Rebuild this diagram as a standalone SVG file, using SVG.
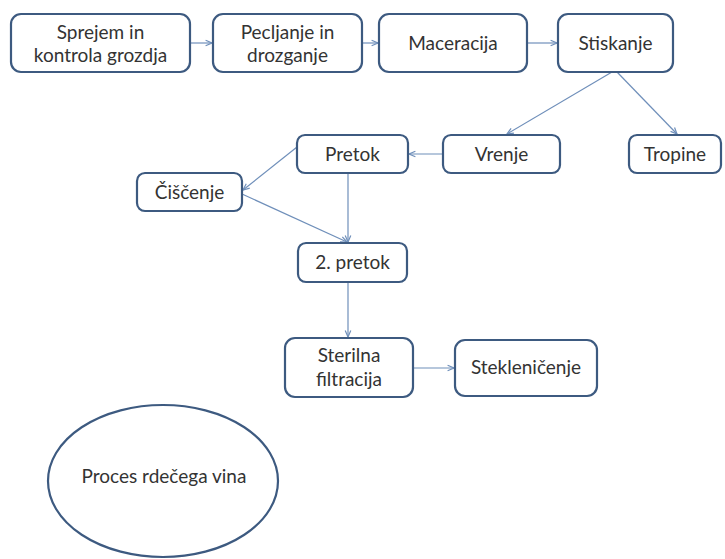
<svg xmlns="http://www.w3.org/2000/svg" width="725" height="559" viewBox="0 0 725 559">
<style>
.box{fill:#fff;stroke:#3d5a80;stroke-width:2.2}
.t{font-family:Lato,"Liberation Sans",sans-serif;font-size:19px;fill:#333;text-anchor:middle}
.c{fill:none;stroke:#6f8fba;stroke-width:1.2;marker-end:url(#a)}
</style>
<defs>
<marker id="a" viewBox="0 0 10 10" refX="9" refY="5" markerWidth="8" markerHeight="8" markerUnits="userSpaceOnUse" orient="auto">
<path d="M1,1.5 L9,5 L1,8.5" fill="none" stroke="#6f8fba" stroke-width="1.5"/>
</marker>
</defs>
<rect width="725" height="559" fill="#fff"/>
<g id="connectors">
<line class="c" x1="190" y1="43" x2="212" y2="43"/>
<line class="c" x1="362" y1="43" x2="378" y2="43"/>
<line class="c" x1="527" y1="43" x2="557" y2="43"/>
<line class="c" x1="612" y1="72" x2="507" y2="134"/>
<line class="c" x1="617" y1="72" x2="677" y2="134"/>
<line class="c" x1="443" y1="154" x2="409" y2="154"/>
<line class="c" x1="297" y1="147" x2="243" y2="190"/>
<line class="c" x1="242" y1="194" x2="347" y2="242"/>
<line class="c" x1="348" y1="173" x2="348" y2="242"/>
<line class="c" x1="348" y1="282" x2="348" y2="337"/>
<line class="c" x1="413" y1="368" x2="454" y2="368"/>
</g>
<g id="n1"><rect class="box" x="11" y="14" width="179" height="58" rx="10"/><text class="t" x="100.5" y="39">Sprejem in</text><text class="t" x="100.5" y="62">kontrola grozdja</text></g>
<g id="n2"><rect class="box" x="213" y="14" width="149" height="58" rx="10"/><text class="t" x="287.5" y="39">Pecljanje in</text><text class="t" x="287.5" y="62">drozganje</text></g>
<g id="n3"><rect class="box" x="379" y="14" width="148" height="58" rx="10"/><text class="t" x="453" y="50">Maceracija</text></g>
<g id="n4"><rect class="box" x="558" y="14" width="115" height="58" rx="10"/><text class="t" x="615.5" y="50">Stiskanje</text></g>
<g id="n5"><rect class="box" x="443" y="135" width="117" height="38" rx="8"/><text class="t" x="501.5" y="161">Vrenje</text></g>
<g id="n6"><rect class="box" x="629" y="135" width="92" height="38" rx="8"/><text class="t" x="675" y="161">Tropine</text></g>
<g id="n7"><rect class="box" x="297" y="135" width="111" height="38" rx="8"/><text class="t" x="352.5" y="161">Pretok</text></g>
<g id="n8"><rect class="box" x="137" y="173" width="105" height="38" rx="8"/><text class="t" x="189.5" y="199">Čiščenje</text></g>
<g id="n9"><rect class="box" x="298" y="243" width="109" height="39" rx="8"/><text class="t" x="352.5" y="269">2. pretok</text></g>
<g id="n10"><rect class="box" x="285" y="338" width="128" height="59" rx="10"/><text class="t" x="349" y="362">Sterilna</text><text class="t" x="349" y="386">filtracija</text></g>
<g id="n11"><rect class="box" x="455" y="340" width="142" height="56" rx="10"/><text class="t" x="526" y="374">Stekleničenje</text></g>
<g id="n12"><ellipse class="box" cx="163" cy="481" rx="115" ry="76"/><text class="t" x="164" y="483">Proces rdečega vina</text></g>
</svg>
